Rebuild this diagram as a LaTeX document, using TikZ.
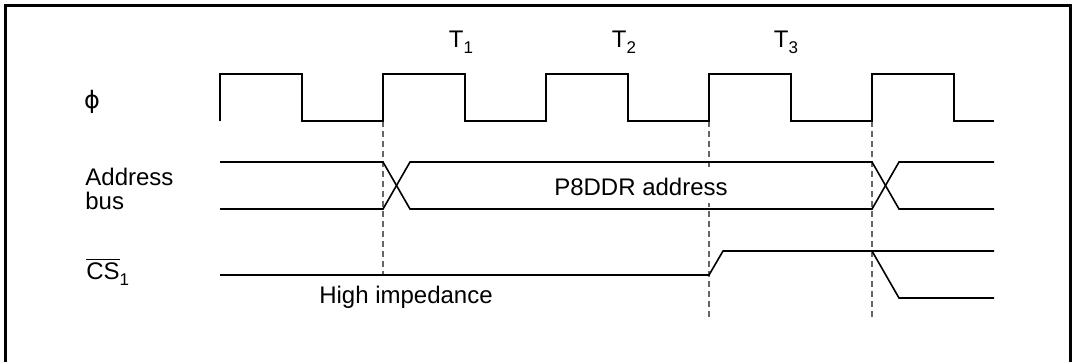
\documentclass[tikz,border=0pt]{standalone}
\usepackage{fontspec}
\setmainfont{Liberation Sans}
\newfontfamily\phifont{DejaVu Sans}
\usetikzlibrary{calc}
\newcommand{\lowsub}[1]{\raisebox{-0.5ex}{\fontsize{8.5}{9}\selectfont #1}}

\begin{document}
\begin{tikzpicture}[x=0.5pt,y=-0.5pt,
    every node/.style={font=\fontsize{12}{12}\selectfont, inner sep=0pt},
    sig/.style={line width=0.8pt, line join=miter},
    guide/.style={gray!80!black, line width=0.6pt, dash pattern=on 3pt off 2pt}]
        \useasboundingbox (0,0) rectangle (1075,361);
        % we draw the frame (open at the bottom)
        \draw[line width=1.5pt] (5,370) -- (5,5.5) -- (1070.5,5.5) -- (1070.5,370);

        % we add the dashed guides
        \coordinate (e1) at (383,121);
        \coordinate (e2) at (709,121);
        \coordinate (e3) at (872,121);
        \draw[guide] (e1) -- ($(e1)+(0,154)$);
        \draw[guide] (e2) -- ($(e2)+(0,197)$);
        \draw[guide] (e3) -- ($(e3)+(0,197)$);

        % we place the signal names
        \node (phi) at (92,102) {\phifont ϕ};
        \node[anchor=west, align=left] (addr) at (85,189) {Address\\bus};
        \node[anchor=west] (cs) at (86,272) {$\overline{\mbox{CS}}$\lowsub{1}};

        % we draw the clock
        \draw[sig] (220,121) \foreach \x in {220,383,546,709} {-- (\x,74) -- (\x+82,74) -- (\x+82,121) -- (\x+163,121)}
            -- (872,74) -- (954,74) -- (954,121) -- (994,121);
        \node (t1) at (461,42) {T\lowsub{1}};
        \node (t2) at (624,42) {T\lowsub{2}};
        \node (t3) at (786,42) {T\lowsub{3}};

        % we draw the address bus
        \draw[sig] (220,162) -- (383,162) -- (410,209) -- (872,209) -- (899,162) -- (994,162);
        \draw[sig] (220,209) -- (383,209) -- (410,162) -- (872,162) -- (899,209) -- (994,209);
        \fill[white] (552,171) rectangle (731,203);
        \node (p8ddr) at (641,187) {P8DDR address};

        % we draw the chip select
        \draw[sig] (220,275) -- (709,275) -- (723,251) -- (994,251);
        \draw[sig] (872,251) -- (899,298) -- (994,298);
        \node (hiz) at (406,297) {High impedance};
    \end{tikzpicture}
\end{document}
